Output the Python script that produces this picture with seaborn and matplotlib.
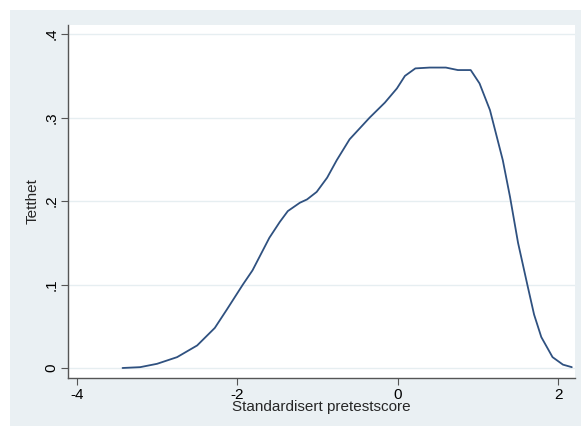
import matplotlib.pyplot as plt
import matplotlib.patches as mpatches
import seaborn as sns
import pandas as pd

# ------------------------------------------------------------------
# Data
# ------------------------------------------------------------------
score = [-3.43, -3.21, -3.0, -2.75, -2.50, -2.28, -2.13, -1.93, -1.81, -1.60,
         -1.47, -1.37, -1.22, -1.13, -1.01, -0.88, -0.76, -0.60, -0.35, -0.16,
         -0.01, 0.09, 0.22, 0.40, 0.60, 0.75, 0.91, 1.02, 1.15, 1.31,
         1.40, 1.50, 1.62, 1.70, 1.79, 1.93, 2.06, 2.17]
density = [0.000, 0.001, 0.005, 0.013, 0.027, 0.048, 0.070, 0.100, 0.117, 0.156,
           0.175, 0.188, 0.198, 0.202, 0.211, 0.228, 0.249, 0.274, 0.300, 0.318,
           0.335, 0.350, 0.359, 0.360, 0.360, 0.357, 0.357, 0.341, 0.309, 0.249,
           0.205, 0.150, 0.098, 0.064, 0.037, 0.013, 0.004, 0.001]

x_ticks = [-4, -2, 0, 2]
y_ticks = [0, 0.1, 0.2, 0.3, 0.4]
y_tick_labels = ["0", ".1", ".2", ".3", ".4"]

df = pd.DataFrame({"score": score, "density": density})

sns.set_theme(style="white")
plt.rcParams["font.family"] = ["Liberation Sans", "DejaVu Sans"]

fig = plt.figure(figsize=(5.81, 4.26), dpi=100)
fig.patch.set_facecolor("white")
# Stata style graph region (behind the axes)
bg = mpatches.Rectangle((10 / 581, 0), 1, 416 / 426,
                        transform=fig.transFigure,
                        facecolor="#EAF0F3", edgecolor="none", zorder=-10)
fig.add_artist(bg)

ax = fig.add_axes([68 / 581, 48 / 426, 507 / 581, 353 / 426])
ax.set_facecolor("white")

sns.lineplot(data=df, x="score", y="density", color="#2F5180",
             linewidth=1.3, ax=ax)

ax.set_xlim(-4.11, 2.21)
ax.set_ylim(-0.012, 0.411)
ax.set_xticks(x_ticks)
ax.set_xticklabels([str(t) for t in x_ticks])
ax.set_yticks(y_ticks)
ax.set_yticklabels(y_tick_labels, rotation=90, va="center")

for y in y_ticks:
    ax.axhline(y, color="#E6EEF1", linewidth=1, zorder=0)

for side in ["top", "right"]:
    ax.spines[side].set_visible(False)
for side in ["left", "bottom"]:
    ax.spines[side].set_color("#555555")
    ax.spines[side].set_linewidth(1.0)

ax.tick_params(axis="both", direction="out", length=5, width=0.8,
               color="#555555", labelsize=11, labelcolor="black", pad=2,
               left=True, bottom=True)

ax.set_xlabel("Standardisert pretestscore", fontsize=11, labelpad=-1)
ax.set_ylabel("Tetthet", fontsize=11, labelpad=3)

fig.savefig("out.png", dpi=100, facecolor=fig.get_facecolor())
